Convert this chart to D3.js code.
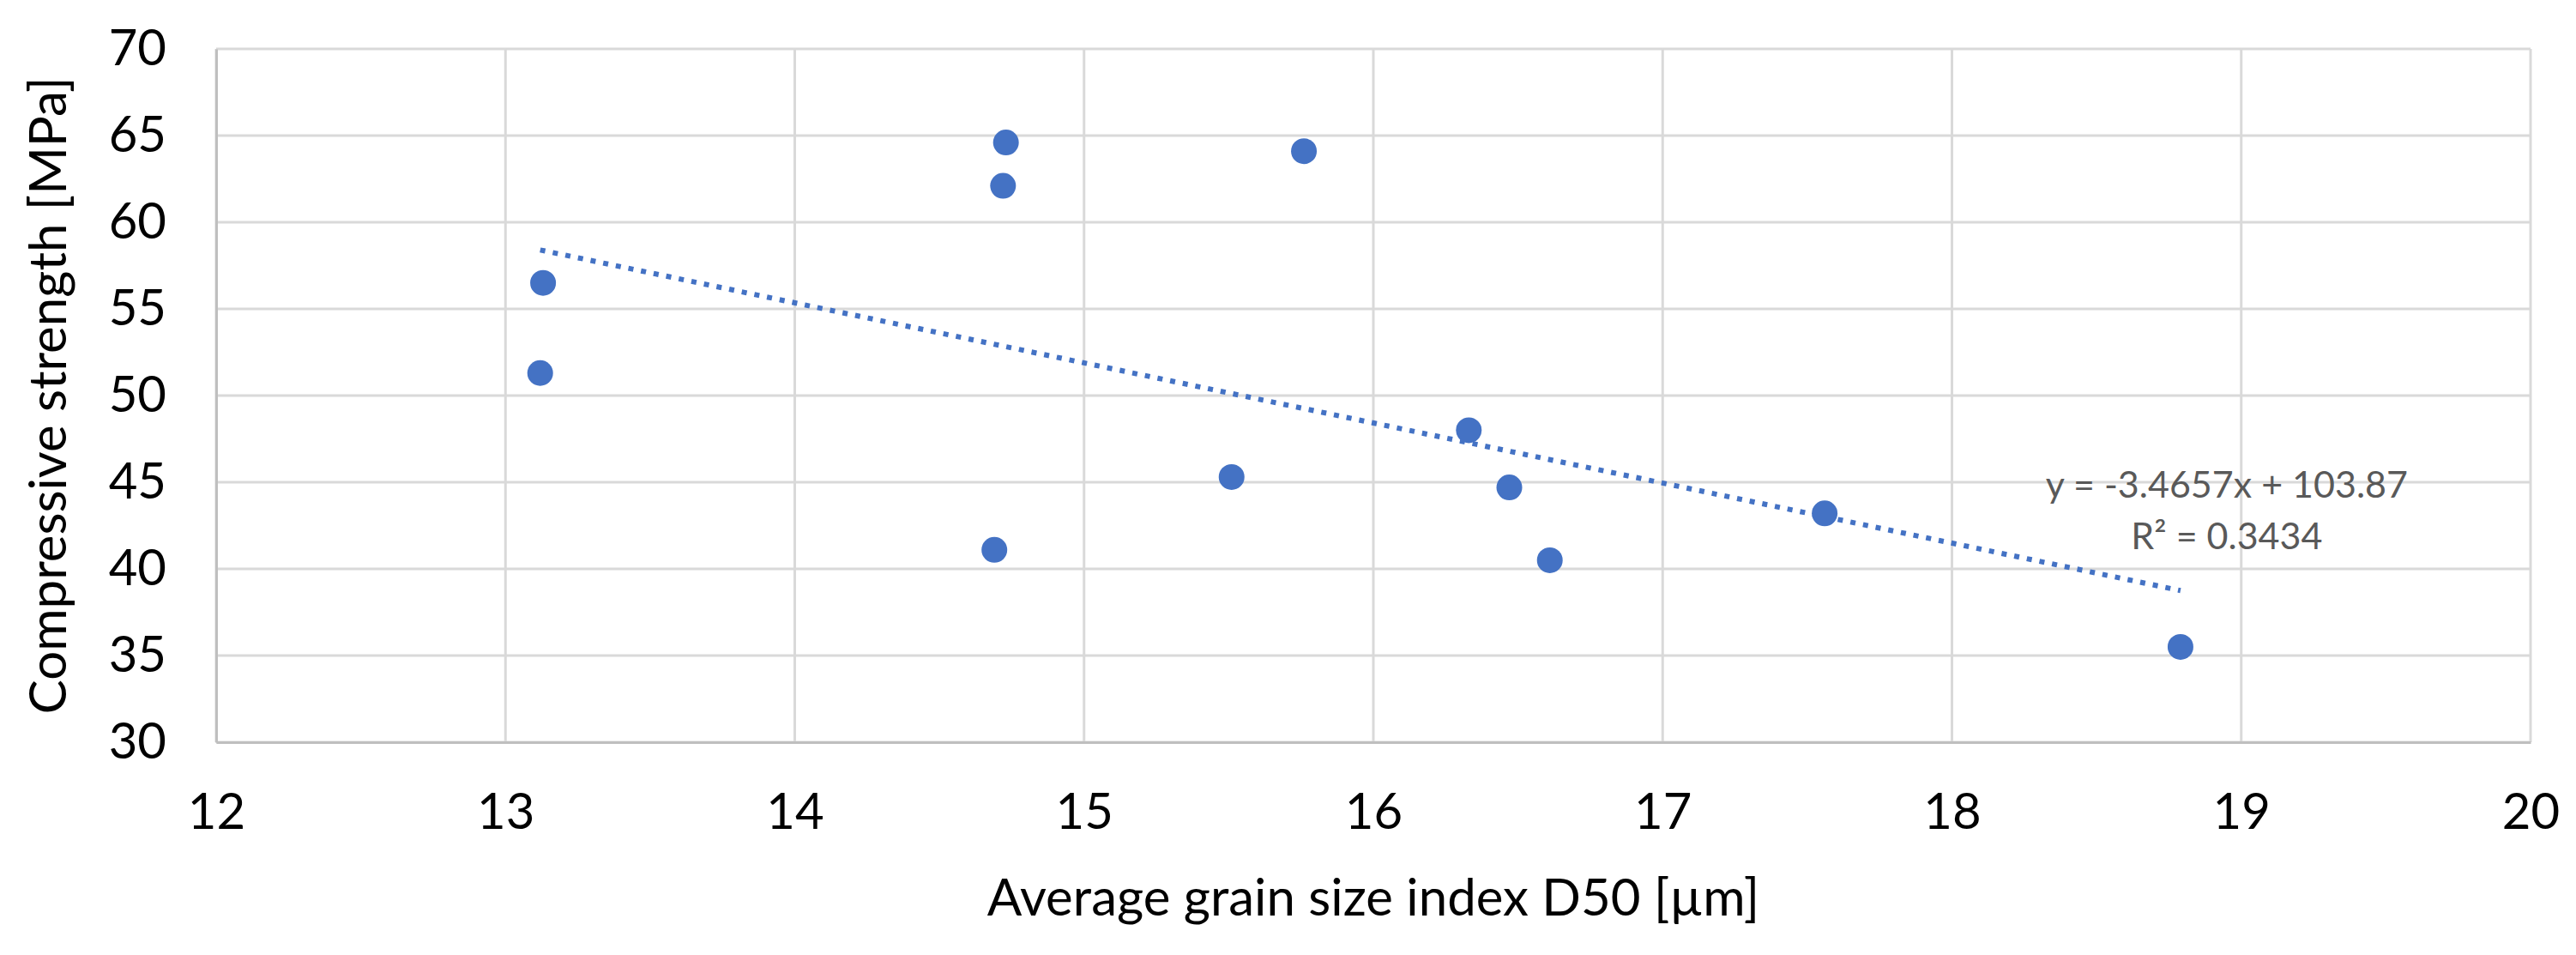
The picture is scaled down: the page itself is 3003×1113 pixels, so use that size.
<!DOCTYPE html>
<html>
<head>
<meta charset="utf-8">
<script src="https://cdn.jsdelivr.net/npm/d3@7"></script>
<style>
  body { margin: 0; background: #fff; }
  svg { display: block; }
</style>
</head>
<body>
<svg id="chart" width="3003" height="1113"></svg>
<script>
const grainSize = [13.13, 13.12, 14.73, 14.72, 14.69, 15.51, 15.76, 16.33, 16.47, 16.61, 17.56, 18.79];
const strength = [56.5, 51.3, 64.6, 62.1, 41.1, 45.3, 64.1, 48.0, 44.7, 40.5, 43.2, 35.5];
const xTicks = [12, 13, 14, 15, 16, 17, 18, 19, 20];
const yTicks = [30, 35, 40, 45, 50, 55, 60, 65, 70];
const trendSlope = -3.4657;
const trendIntercept = 103.87;
const trendLabel = ['y = -3.4657x + 103.87', 'R² = 0.3434'];

const font = 'Lato, "Open Sans", sans-serif';
const blue = '#4472c4';

const svg = d3.select('#chart');
const margin = { left: 252, right: 53, top: 57, bottom: 248 };
const width = 3003 - margin.left - margin.right;
const height = 1113 - margin.top - margin.bottom;

const x = d3.scaleLinear().domain([12, 20]).range([0, width]);
const y = d3.scaleLinear().domain([30, 70]).range([height, 0]);

const g = svg.append('g').attr('transform', `translate(${margin.left},${margin.top})`);

// gridlines
g.append('g')
    .selectAll('line')
    .data(yTicks)
    .enter()
    .append('line')
    .attr('x1', 0).attr('x2', width)
    .attr('y1', d => y(d)).attr('y2', d => y(d))
    .attr('stroke', '#d9d9d9').attr('stroke-width', 3);
g.append('g')
    .selectAll('line')
    .data(xTicks)
    .enter()
    .append('line')
    .attr('y1', 0).attr('y2', height)
    .attr('x1', d => x(d)).attr('x2', d => x(d))
    .attr('stroke', '#d9d9d9').attr('stroke-width', 3);

// axes
const xAxis = d3.axisBottom(x).tickValues(xTicks).tickSize(0).tickPadding(60);
const yAxis = d3.axisLeft(y).tickValues(yTicks).tickSize(0).tickPadding(58);

const gx = g.append('g').attr('transform', `translate(0,${height})`).call(xAxis);
const gy = g.append('g').call(yAxis);
[gx, gy].forEach(a => {
    a.select('.domain').attr('stroke', '#bfbfbf').attr('stroke-width', 3);
    a.selectAll('text').attr('font-family', font).attr('font-size', 58).attr('fill', '#000');
});

// trendline
const xs = d3.extent(grainSize);
g.append('line')
    .attr('x1', x(xs[0])).attr('y1', y(trendIntercept + trendSlope * xs[0]))
    .attr('x2', x(xs[1])).attr('y2', y(trendIntercept + trendSlope * xs[1]))
    .attr('stroke', blue)
    .attr('stroke-width', 6)
    .attr('stroke-dasharray', '6 9');

// points
g.selectAll('.dot')
    .data(grainSize)
    .enter()
    .append('circle')
    .attr('class', 'dot')
    .attr('cx', d => x(d))
    .attr('cy', (d, i) => y(strength[i]))
    .attr('r', 15)
    .attr('fill', blue);

// trend equation
g.append('text')
    .attr('x', x(18.95))
    .attr('y', y(44.1))
    .attr('text-anchor', 'middle')
    .attr('font-family', font)
    .attr('font-size', 43)
    .attr('fill', '#595959')
    .selectAll('tspan')
    .data(trendLabel)
    .enter()
    .append('tspan')
    .attr('x', x(18.95))
    .attr('dy', (d, i) => i === 0 ? 0 : 60)
    .text(d => d);

// axis titles
svg.append('text')
    .attr('x', margin.left + width / 2)
    .attr('y', 1067)
    .attr('text-anchor', 'middle')
    .attr('font-family', font)
    .attr('font-size', 60)
    .attr('fill', '#000')
    .text('Average grain size index D50 [µm]');

svg.append('text')
    .attr('transform', `translate(77,${margin.top + height / 2}) rotate(-90)`)
    .attr('text-anchor', 'middle')
    .attr('font-family', font)
    .attr('font-size', 60)
    .attr('fill', '#000')
    .text('Compressive strength [MPa]');
</script>
</body>
</html>
